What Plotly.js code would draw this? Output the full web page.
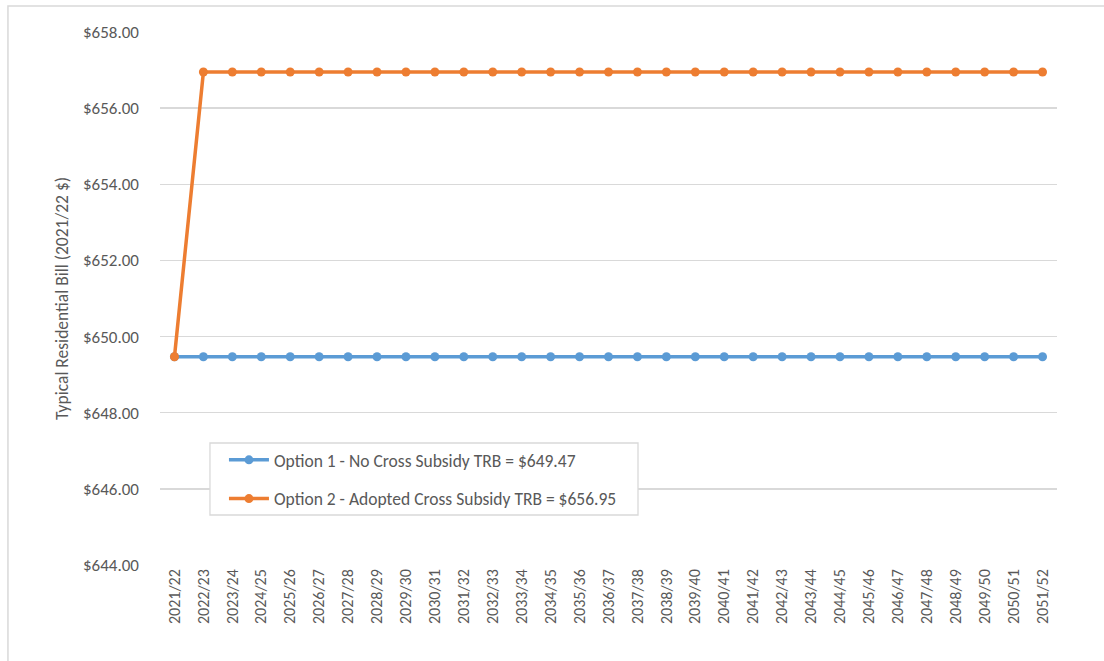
<!DOCTYPE html>
<html>
<head>
<meta charset="utf-8">
<script src="https://cdn.plot.ly/plotly-3.0.1.min.js"></script>
<style>
html,body{margin:0;padding:0;background:#fff;}
#chart{width:1104px;height:661px;}
</style>
</head>
<body>
<div id="chart"></div>
<script>
const years = ["2021/22","2022/23","2023/24","2024/25","2025/26","2026/27","2027/28","2028/29","2029/30","2030/31","2031/32","2032/33","2033/34","2034/35","2035/36","2036/37","2037/38","2038/39","2039/40","2040/41","2041/42","2042/43","2043/44","2044/45","2045/46","2046/47","2047/48","2048/49","2049/50","2050/51","2051/52"];
const option1 = [649.47,649.47,649.47,649.47,649.47,649.47,649.47,649.47,649.47,649.47,649.47,649.47,649.47,649.47,649.47,649.47,649.47,649.47,649.47,649.47,649.47,649.47,649.47,649.47,649.47,649.47,649.47,649.47,649.47,649.47,649.47];
const option2 = [649.47,656.95,656.95,656.95,656.95,656.95,656.95,656.95,656.95,656.95,656.95,656.95,656.95,656.95,656.95,656.95,656.95,656.95,656.95,656.95,656.95,656.95,656.95,656.95,656.95,656.95,656.95,656.95,656.95,656.95,656.95];
const name1 = "Option 1 - No Cross Subsidy TRB = $649.47";
const name2 = "Option 2 - Adopted Cross Subsidy TRB = $656.95";
const yTicks = [644,646,648,650,652,654,656,658];
const yTickText = ["$644.00","$646.00","$648.00","$650.00","$652.00","$654.00","$656.00","$658.00"];

const font = "Calibri, Carlito, Lato, sans-serif";
const txt = "#595959";

const traces = [
  {x: years, y: option1, name: name1, type: "scatter", mode: "lines+markers",
   line: {color: "#5B9BD5", width: 3.5}, marker: {color: "#5B9BD5", size: 9},
   legendgroup: "a"},
  {x: years, y: option2, name: name2, type: "scatter", mode: "lines+markers",
   line: {color: "#ED7D31", width: 3.5}, marker: {color: "#ED7D31", size: 9},
   legendgroup: "b"}
];

const layout = {
  width: 1104, height: 661,
  margin: {l: 160, r: 47, t: 32, b: 96},
  paper_bgcolor: "#fff", plot_bgcolor: "#fff",
  font: {family: font, color: txt, size: 17},
  showlegend: true,
  legend: {
    x: 0.0713, y: 0.2308, xanchor: "left", yanchor: "top",
    borderwidth: 0, bgcolor: "rgba(0,0,0,0)",
    font: {family: font, size: 17.5, color: txt},
    itemwidth: 40, traceorder: "grouped", tracegroupgap: 13
  },
  xaxis: {
    type: "category", range: [-0.5, 30.5], tickangle: -90,
    showgrid: false, zeroline: false, showline: false, ticks: "",
    tickfont: {family: font, size: 16, color: txt}, fixedrange: true
  },
  yaxis: {
    range: [644, 658], tickvals: yTicks, ticktext: yTickText,
    showgrid: true, gridcolor: "#d9d9d9", gridwidth: 1.3,
    zeroline: false, showline: false, ticks: "", ticklabelstandoff: 20,
    tickfont: {family: font, size: 17, color: txt},
    title: {text: "Typical Residential Bill (2021/22 $)", font: {family: font, size: 17.5, color: txt}, standoff: 9},
    fixedrange: true
  },
  shapes: [{
    type: "rect", xref: "paper", yref: "paper",
    x0: -0.1695, x1: 1.2, y0: -0.3, y1: 1.0488,
    line: {color: "#d9d9d9", width: 1.5}, fillcolor: "rgba(0,0,0,0)", layer: "below"
  }, {
    type: "rect", xref: "paper", yref: "paper",
    x0: 0.0557, x1: 0.5329, y0: 0.0938, y1: 0.2289,
    line: {color: "#d9d9d9", width: 1.3}, fillcolor: "#ffffff", layer: "above"
  }]
};

Plotly.newPlot("chart", traces, layout, {displayModeBar: false, staticPlot: true});
</script>
</body>
</html>
